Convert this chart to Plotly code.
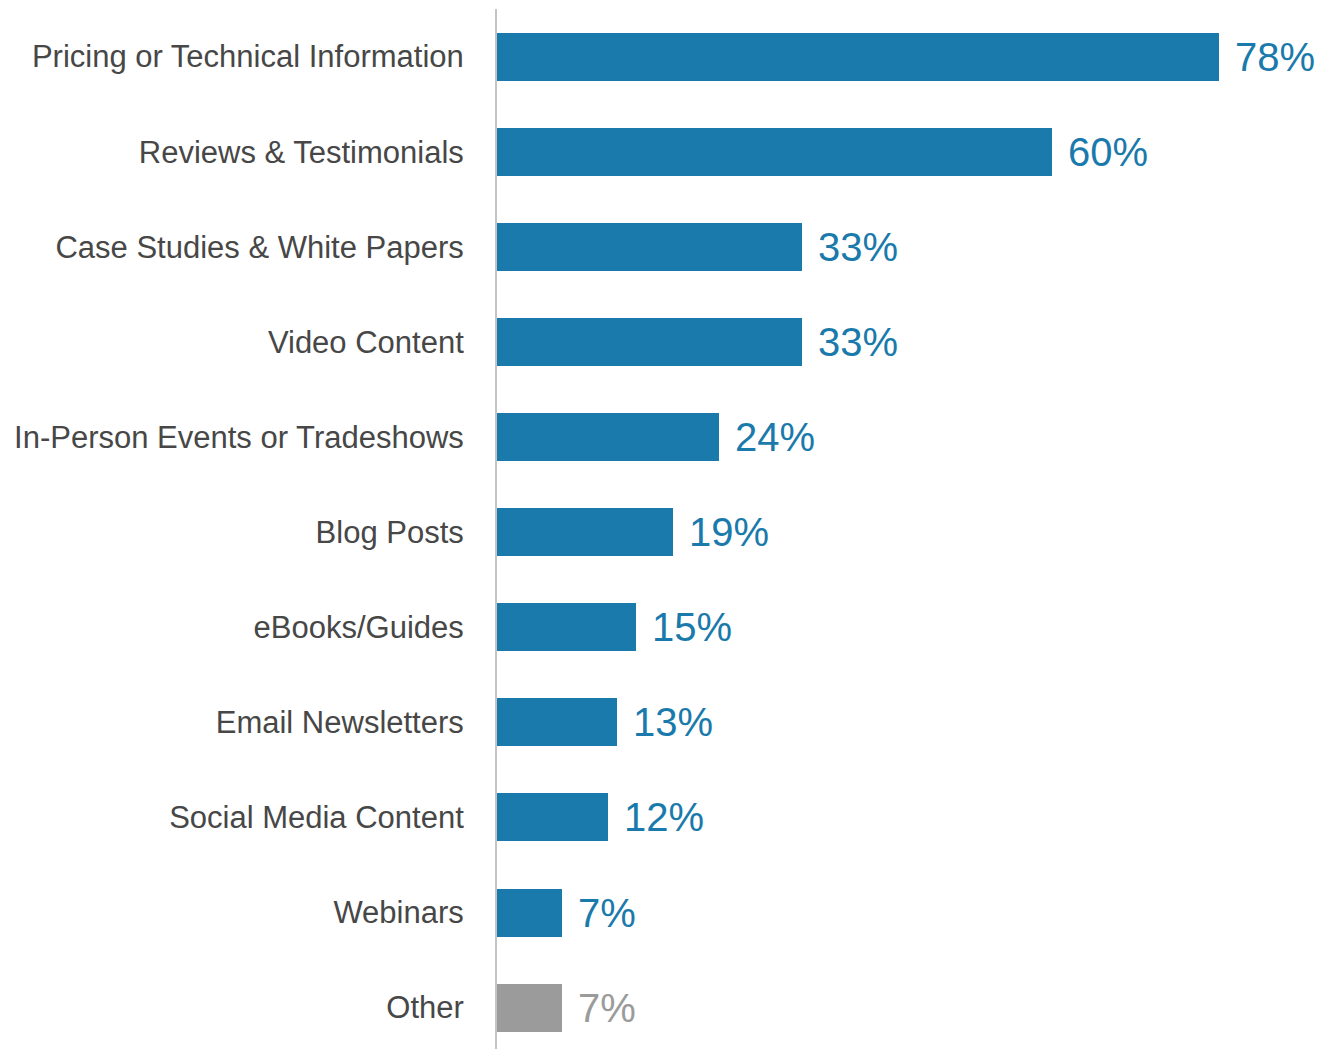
import plotly.graph_objects as go

categories = [
    "Pricing or Technical Information",
    "Reviews & Testimonials",
    "Case Studies & White Papers",
    "Video Content",
    "In-Person Events or Tradeshows",
    "Blog Posts",
    "eBooks/Guides",
    "Email Newsletters",
    "Social Media Content",
    "Webinars",
    "Other",
]
values = [78, 60, 33, 33, 24, 19, 15, 13, 12, 7, 7]
value_labels = ["78%", "60%", "33%", "33%", "24%", "19%", "15%", "13%", "12%", "7%", "7%"]

BLUE = "#1a7aab"
GRAY = "#9b9b9b"
colors = [GRAY if c == "Other" else BLUE for c in categories]

fig = go.Figure()
fig.add_trace(go.Bar(
    x=values,
    y=categories,
    orientation="h",
    marker=dict(color=colors, line=dict(width=0)),
    width=0.505,
    hoverinfo="skip",
))

for c, v, t, col in zip(categories, values, value_labels, colors):
    fig.add_annotation(
        x=v, y=c, text=t, xref="x", yref="y",
        xanchor="left", yanchor="middle", showarrow=False,
        xshift=14, font=dict(family="Liberation Sans, Arial, sans-serif", size=40, color=col),
    )

fig.update_layout(
    width=1324, height=1041,
    margin=dict(l=489, r=0, t=1, b=0, autoexpand=False),
    paper_bgcolor="white", plot_bgcolor="white",
    showlegend=False,
    bargap=0,
    font=dict(family="Liberation Sans, Arial, sans-serif", size=31, color="#474747"),
)
fig.update_xaxes(range=[0, 90.2], showgrid=False, zeroline=False, showticklabels=False,
                 showline=False, ticks="", automargin=False)
fig.update_yaxes(type="category", categoryorder="array", categoryarray=categories,
                 range=[10.435, -0.5], showgrid=False, zeroline=False,
                 showline=True, linecolor="#c4c4c4", linewidth=2, mirror=False,
                 ticks="", ticklabelstandoff=25, automargin=False,
                 tickfont=dict(family="Liberation Sans, Arial, sans-serif", size=31, color="#474747"))

fig.write_html("out.html")
